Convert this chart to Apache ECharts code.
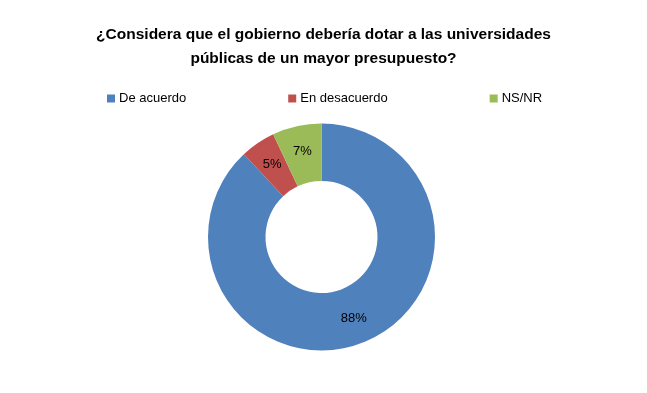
<!DOCTYPE html>
<html><head><meta charset="utf-8">
<script src="https://cdn.jsdelivr.net/npm/echarts@6/dist/echarts.min.js"></script>
<style>html,body{margin:0;padding:0;background:#fff}#c{width:647px;height:393px}</style>
</head><body><div id="c"></div>
<script>
const categories = ['De acuerdo', 'En desacuerdo', 'NS/NR'];
const values = [88, 5, 7];
const colors = ['#4F81BD', '#C0504D', '#9BBB59'];
const chart = echarts.init(document.getElementById('c'));
chart.setOption({
  animation: false,
  title: {
    text: '¿Considera que el gobierno debería dotar a las universidades\npúblicas de un mayor presupuesto?',
    left: 'center', top: 18,
    textStyle: { fontFamily: 'Liberation Sans', fontSize: 15.5, fontWeight: 'bold', color: '#000', lineHeight: 24 }
  },
  legend: {
    left: 102, top: 87, itemWidth: 8, itemHeight: 8, itemGap: 102, icon: 'rect',
    textStyle: { fontFamily: 'Liberation Sans', fontSize: 13, color: '#000', padding: [0,0,0,-1] },
    data: categories
  },
  series: [{
    type: 'pie', radius: [56, 113.5], center: [321.5, 237], startAngle: 90, clockwise: true,
    label: { position: 'inside', formatter: '{c}%', fontFamily: 'Liberation Sans', fontSize: 13, color: '#000' },
    labelLine: { show: false },
    itemStyle: { borderColor: '#fff', borderWidth: 0 },
    data: categories.map((c, i) => ({ name: c, value: values[i], itemStyle: { color: colors[i] } }))
  }]
});
</script></body></html>
